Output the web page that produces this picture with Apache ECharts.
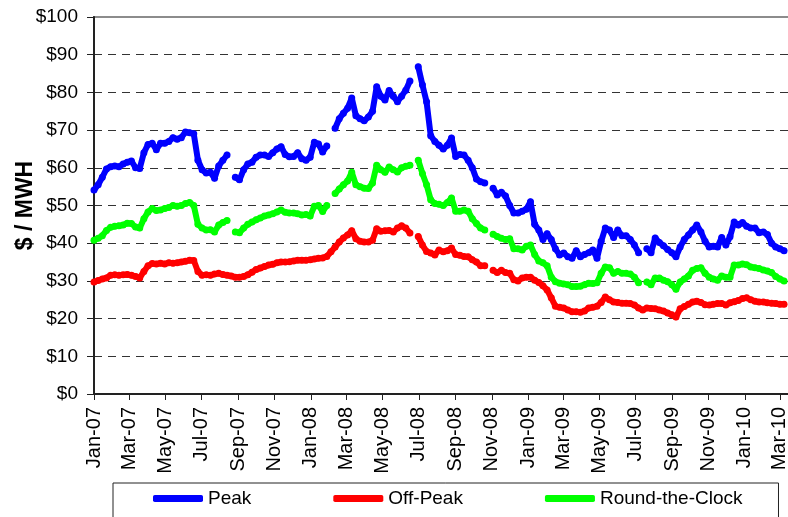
<!DOCTYPE html>
<html>
<head>
<meta charset="utf-8">
<title>Power prices</title>
<script src="https://cdn.jsdelivr.net/npm/echarts@6/dist/echarts.min.js"></script>
<style>
  html, body { margin: 0; padding: 0; background: #fff; }
  #chart { width: 788px; height: 517px; }
</style>
</head>
<body>
<div id="chart"></div>
<script>
  // weekly readings, week 0 = 2007-01-01, null = no trading data
  var weekStart = [2007, 0, 1]

  var peak = [
    54.1, 55.5, 57.5, 59.7, 60.3, 60.5, 60.3, 61, 61.5, 61.8,
    60, 59.8, 64, 66.2, 66.5, 64.8, 66.5, 66.5, 67, 68,
    67.6, 68, 69.5, 69.3, 69, 62, 59.5, 58.6, 58.8, 57.2,
    60.5, 62, 63.4, null, 57.5, 56.8, 59.5, 61, 61.5, 62.8,
    63.4, 63.4, 63, 64, 65, 65.6, 63.5, 62.9, 63, 64,
    62.4, 62, 62.8, 66.8, 66.3, 64.2, 65.8, null, 70.5, 73,
    74.5, 75.8, 78.5, 73.8, 73, 72.5, 73.5, 75, 81.5, 79,
    78, 80.5, 79, 77.5, 79, 80.6, 83, null, 86.8, 82,
    77.5, 68.5, 67, 66, 65, 66, 67.9, 63, 63.5, 63.4,
    62, 60, 57, 56.3, 56, null, 54.6, 52.8, 53.5, 52.5,
    50, 48, 48, 48.5, 49, 51, 45, 43.5, 41, 42.5,
    41, 38.5, 36.9, 37.4, 36.4, 36, 38, 36.4, 37, 37.5,
    38.2, 36, 40.5, 44, 43.5, 41.5, 43.5, 42, 42, 41,
    39.5, 37.5, null, 38.5, 37.5, 41.4, 40.2, 39.3, 38.3, 37.5,
    36.4, 39, 41, 42.2, 43.5, 44.8, 43, 40.5, 39, 39.2,
    39, 41.5, 39.5, 41.7, 45.6, 44.8, 45.5, 44.5, 44, 44,
    42.8, 43, 42.3, 40, 39, 38.5, 38
  ]

  var offPeak = [
    29.7, 30.1, 30.5, 30.8, 31.5, 31.6, 31.5, 31.6, 31.7, 31.5,
    31.2, 30.8, 32.5, 34, 34.6, 34.5, 34.7, 34.5, 34.8, 34.7,
    34.8, 35, 35.2, 35.5, 35.4, 32.5, 31.5, 31.6, 31.5, 31.8,
    32, 31.7, 31.5, 31.3, 31, 31, 31.2, 31.6, 32.3, 33,
    33.4, 33.8, 34.2, 34.4, 34.8, 35, 35, 35.1, 35.3, 35.5,
    35.5, 35.5, 35.6, 35.8, 36, 36.1, 36.5, 37.7, 39, 40.3,
    41.4, 42.2, 43.3, 41.2, 40.5, 40.3, 40.3, 40.8, 43.8, 43.2,
    43.3, 43.4, 43, 44, 44.6, 44, 42.7, null, 41.8, 39.5,
    37.8, 37.4, 36.9, 38.2, 37.7, 38, 38.7, 37, 36.8, 36.5,
    36.4, 35.6, 35, 34, 34, null, 32.8, 32.2, 32.8, 32.2,
    32, 30.3, 30, 30.8, 31, 31, 30.2, 29.6, 28.7, 27.6,
    25.5, 23.3, 23, 22.8, 22.3, 21.8, 21.8, 21.7, 22, 22.8,
    23, 23.3, 24.3, 25.7, 25, 24.4, 24.3, 24.1, 24.1, 24,
    23.6, 22.8, 22.3, 22.8, 22.7, 22.6, 22.3, 22, 21.5, 21,
    20.4, 22.6, 23.2, 23.8, 24.4, 24.6, 24.3, 23.7, 23.6, 23.8,
    24, 24, 23.6, 24.2, 24.5, 24.8, 25.3, 25.5, 25, 24.6,
    24.4, 24.4, 24.2, 24.1, 24, 23.8, 23.8
  ]

  var roundTheClock = [
    40.8, 41.3, 42, 43.4, 44.2, 44.5, 44.6, 44.8, 45.3, 45.2,
    44.3, 44, 46.5, 48.3, 49.2, 48.7, 48.8, 49.2, 49.5, 50,
    49.8, 50, 50.5, 50.8, 50, 45, 44, 43.5, 43.6, 43,
    44.8, 45.5, 46, null, 43, 42.8, 44, 45, 45.6, 46.2,
    46.7, 47.2, 47.5, 47.8, 48.3, 48.8, 48.2, 48, 48, 47.8,
    47.5, 47.6, 47.2, 49.8, 50, 48.4, 50, null, 53.2, 54.4,
    55.5, 56.5, 58.8, 55.5, 55, 54.6, 54.5, 56, 60.7, 59.5,
    58.8, 60.2, 59.5, 58.9, 60, 60.4, 60.7, null, 62, 58.5,
    55.5, 51.5, 50.5, 50.3, 50, 50.8, 52, 48.5, 48.5, 48.8,
    48.5, 46.5, 45.2, 44, 43.5, null, 42.4, 41.8, 41.3, 41,
    41.2, 38.5, 38.5, 38.2, 39.2, 39.5, 37, 35.3, 34.8, 34,
    31, 29.8, 29.4, 29.2, 29, 28.5, 28.5, 28.6, 29, 29.4,
    29.3, 29.5, 32, 33.7, 33.5, 32, 32.5, 32, 32, 31.8,
    31, 29.5, null, 29.7, 29, 30.8, 30.8, 30.2, 29.8, 29,
    27.8, 29.7, 30.5, 31.3, 32.8, 33.3, 33.5, 32, 31, 30.5,
    30.2, 31.3, 31, 31, 34.2, 34.2, 34.5, 34.3, 33.7, 33.5,
    33.3, 32.9, 32.6, 32.2, 31.2, 30.5, 30
  ]

  var tickDates = [
    '2007-01-01', '2007-03-01', '2007-05-01', '2007-07-01', '2007-09-01', '2007-11-01',
    '2008-01-01', '2008-03-01', '2008-05-01', '2008-07-01', '2008-09-01', '2008-11-01',
    '2009-01-01', '2009-03-01', '2009-05-01', '2009-07-01', '2009-09-01', '2009-11-01',
    '2010-01-01', '2010-03-01'
  ]
  var tickLabels = [
    'Jan-07', 'Mar-07', 'May-07', 'Jul-07', 'Sep-07', 'Nov-07',
    'Jan-08', 'Mar-08', 'May-08', 'Jul-08', 'Sep-08', 'Nov-08',
    'Jan-09', 'Mar-09', 'May-09', 'Jul-09', 'Sep-09', 'Nov-09',
    'Jan-10', 'Mar-10'
  ]

  var DAY = 86400000
  var origin = Date.UTC(weekStart[0], weekStart[1], weekStart[2])
  function dayOf(str) {
    var p = str.split('-')
    return Math.round((Date.UTC(+p[0], +p[1] - 1, +p[2]) - origin) / DAY)
  }
  var tickDays = tickDates.map(dayOf)
  var lastDay = dayOf('2010-03-18')

  function toPairs(arr) {
    return arr.map(function (v, i) { return [i * 7, v == null ? '-' : v] })
  }

  var font = '"Liberation Sans", Arial, sans-serif'

  function lineSeries(name, color, values) {
    return {
      name: name,
      type: 'line',
      data: toPairs(values),
      connectNulls: false,
      symbol: 'circle',
      symbolSize: 7,
      showSymbol: true,
      showAllSymbol: true,
      itemStyle: { color: color },
      lineStyle: { color: color, width: 6, cap: 'round', join: 'round' },
      emphasis: { disabled: true }
    }
  }

  var chart = echarts.init(document.getElementById('chart'))
  chart.setOption({
    animation: false,
    backgroundColor: '#fff',
    textStyle: { fontFamily: font },
    grid: {
      left: 94,
      top: 17,
      right: -2,
      bottom: 123,
      containLabel: false,
      outerBoundsMode: 'none',
      show: true,
      borderColor: '#8c8c8c',
      borderWidth: 2
    },
    legend: {
      left: 113,
      top: 483,
      padding: [6, 36, 24, 40],
      itemGap: 82,
      itemWidth: 50,
      itemHeight: 7,
      icon: 'roundRect',
      borderColor: '#222',
      borderWidth: 1,
      textStyle: { fontSize: 19, color: '#000', fontFamily: font },
      data: ['Peak', 'Off-Peak', 'Round-the-Clock']
    },
    xAxis: {
      type: 'value',
      min: 0,
      max: lastDay,
      axisLine: { show: true, lineStyle: { color: '#222', width: 2 } },
      axisTick: {
        show: true,
        customValues: tickDays,
        length: 6,
        lineStyle: { color: '#222', width: 1 }
      },
      axisLabel: {
        customValues: tickDays,
        rotate: 90,
        margin: 13,
        fontSize: 20,
        color: '#000',
        fontFamily: font,
        formatter: function (v) {
          var k = tickDays.indexOf(Math.round(v))
          return k >= 0 ? tickLabels[k] : ''
        }
      },
      splitLine: { show: false }
    },
    yAxis: {
      type: 'value',
      min: 0,
      max: 100,
      interval: 10,
      name: '$ / MWH',
      nameLocation: 'middle',
      nameRotate: 90,
      nameGap: 57,
      nameMoveOverlap: false,
      nameTextStyle: { fontSize: 23, fontWeight: 'bold', color: '#000', fontFamily: font },
      axisLine: { show: true, lineStyle: { color: '#222', width: 2 } },
      axisTick: { show: true, length: 7, lineStyle: { color: '#222', width: 1 } },
      axisLabel: {
        margin: 16,
        fontSize: 19,
        color: '#000',
        fontFamily: font,
        formatter: function (v) { return '$' + v }
      },
      splitLine: {
        show: true,
        showMinLine: false,
        showMaxLine: false,
        lineStyle: { color: '#333', width: 1, type: [8, 6] }
      }
    },
    series: [
      lineSeries('Peak', '#0000ff', peak),
      lineSeries('Off-Peak', '#ff0000', offPeak),
      lineSeries('Round-the-Clock', '#00ff00', roundTheClock)
    ]
  })
</script>
</body>
</html>
